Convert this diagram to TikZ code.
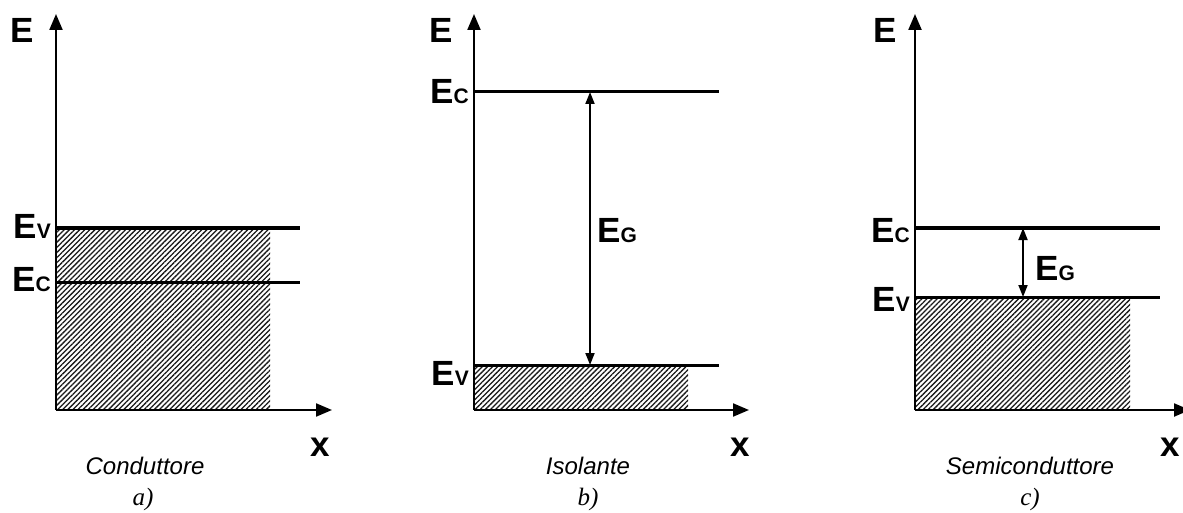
\documentclass[tikz,border=0pt]{standalone}
\usepackage{fontspec}
\setmainfont{Liberation Sans}
\newfontfamily\timesf{Liberation Serif}
\usetikzlibrary{arrows.meta,patterns.meta}
\newcommand{\lvlE}[1]{{\fontsize{35}{35}\selectfont\bfseries E}{\fontsize{21}{21}\selectfont\bfseries #1}}
\tikzset{
  axis/.style={line width=2.2pt,-{Triangle[length=16pt,width=13pt]}},
  level/.style={line width=3pt},
  gap/.style={line width=1.8pt,{Triangle[length=12pt,width=9pt]}-{Triangle[length=12pt,width=9pt]}},
  hatch/.style={pattern={Lines[angle=45,distance=3.6pt,line width=1.3pt]},pattern color=black!90},
  lbl/.style={inner sep=0pt,anchor=base east},
  glbl/.style={inner sep=0pt,anchor=base west},
  axlbl/.style={inner sep=0pt,anchor=base,font=\fontsize{35}{35}\selectfont\bfseries},
  captxt/.style={inner sep=0pt,anchor=base,font=\fontsize{24}{24}\selectfont\itshape},
  subtxt/.style={inner sep=0pt,anchor=base,font=\fontsize{25}{25}\selectfont\timesf\itshape}
}
\begin{document}
\begin{tikzpicture}[x=1pt,y=-1pt]
\useasboundingbox (0,0) rectangle (1183,513);
% ---------- panel a ----------
\coordinate (oa) at (56,410);
\coordinate (ya) at (56,14);
\coordinate (xa) at (332,410);
\coordinate (eva) at (56,228);
\coordinate (eva2) at (300,228);
\coordinate (eca) at (56,282);
\coordinate (eca2) at (300,282);
\fill[hatch] (oa) rectangle (270,228);
\draw[axis] (oa) -- (ya);
\draw[axis] (oa) -- (xa);
\draw[level] (eva) -- (eva2);
\draw[level] (eca) -- (eca2);
\node[axlbl] (Ea) at (22,43) {E};
\node[axlbl] (xla) at (320,456) {x};
\node[lbl] (EVa) at (51,238) {\lvlE{V}};
\node[lbl] (ECa) at (51,291) {\lvlE{C}};
\node[captxt] (ca) at (145,474) {Conduttore};
\node[subtxt] (sa) at (143,505) {a)};
% ---------- panel b ----------
\coordinate (ob) at (474,410);
\coordinate (yb) at (474,14);
\coordinate (xb) at (749,410);
\coordinate (ecb) at (474,92);
\coordinate (ecb2) at (719,92);
\coordinate (evb) at (474,365);
\coordinate (evb2) at (719,365);
\coordinate (gbt) at (590,92);
\coordinate (gbb) at (590,365);
\fill[hatch] (ob) rectangle (688,365);
\draw[axis] (ob) -- (yb);
\draw[axis] (ob) -- (xb);
\draw[level] (ecb) -- (ecb2);
\draw[level] (evb) -- (evb2);
\draw[gap] (gbb) -- (gbt);
\node[axlbl] (Eb) at (441,43) {E};
\node[axlbl] (xlb) at (740,456) {x};
\node[lbl] (ECb) at (469,104) {\lvlE{C}};
\node[lbl] (EVb) at (469,385) {\lvlE{V}};
\node[glbl] (EGb) at (597,243) {\lvlE{G}};
\node[captxt] (cb) at (588,474) {Isolante};
\node[subtxt] (sb) at (588,505) {b)};
% ---------- panel c ----------
\coordinate (oc) at (915,410);
\coordinate (yc) at (915,14);
\coordinate (xc) at (1190,410);
\coordinate (ecc) at (915,228);
\coordinate (ecc2) at (1160,228);
\coordinate (evc) at (915,297);
\coordinate (evc2) at (1160,297);
\coordinate (gct) at (1023,228);
\coordinate (gcb) at (1023,297);
\fill[hatch] (oc) rectangle (1130,297);
\draw[axis] (oc) -- (yc);
\draw[axis] (oc) -- (xc);
\draw[level] (ecc) -- (ecc2);
\draw[level] (evc) -- (evc2);
\draw[gap] (gcb) -- (gct);
\node[axlbl] (Ec) at (885,43) {E};
\node[axlbl] (xlc) at (1170,456) {x};
\node[lbl] (ECc) at (910,243) {\lvlE{C}};
\node[lbl] (EVc) at (910,311) {\lvlE{V}};
\node[glbl] (EGc) at (1035,280) {\lvlE{G}};
\node[captxt] (cc) at (1030,474) {Semiconduttore};
\node[subtxt] (sc) at (1030,505) {c)};
\end{tikzpicture}
\end{document}
